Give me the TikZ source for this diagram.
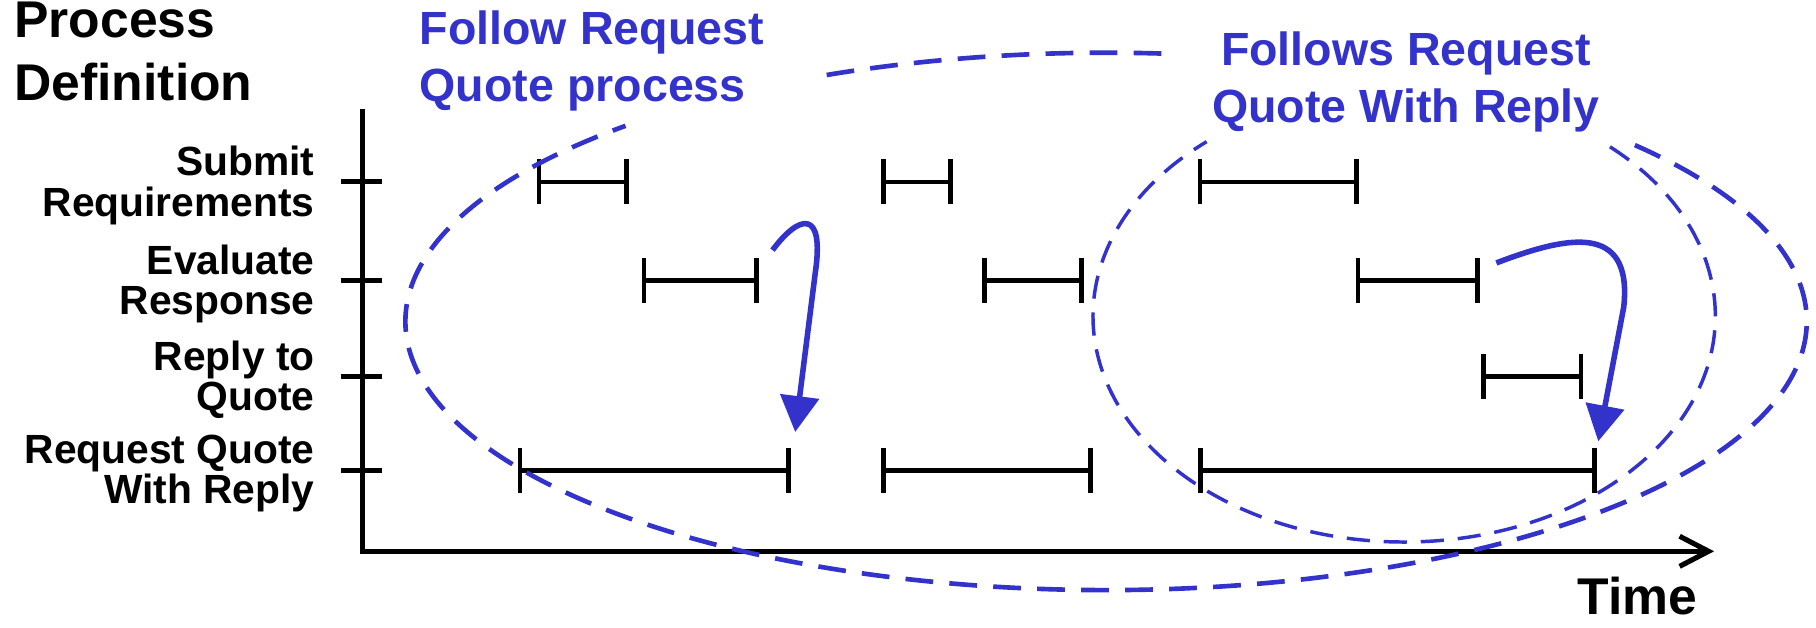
\documentclass[tikz,border=0pt]{standalone}
\usepackage{fontspec}
\setmainfont{Liberation Sans}
\usepackage{xcolor}
\usepackage{tikz}
\usetikzlibrary{arrows.meta,positioning}

\definecolor{flowblue}{RGB}{51,51,204}

\tikzset{
  axis/.style={line width=2.2pt},
  interval/.style={line width=2pt, {Bar[width=19.5pt]}-{Bar[width=19.5pt]}},
  procname/.style={anchor=east, align=right, inner sep=0pt, font=\fontsize{17.6}{17.4}\selectfont\bfseries},
  note/.style={text=flowblue, inner sep=0pt, font=\fontsize{20.1}{24.6}\selectfont\bfseries},
  scopeline/.style={flowblue, dash pattern=on 10pt off 6pt},
  follow/.style={flowblue, line width=2.4pt, -{Triangle[length=15.5pt,width=16.5pt]}},
}

\begin{document}
\begin{tikzpicture}[x=0.5pt, y=0.5pt, yscale=-1]
    \useasboundingbox (0,0) rectangle (1568,542);

    % axes
    \draw [axis, -{Straight Barb[length=12.5pt,width=13pt]}] (313,94) |- (1480,476);
    \node [anchor=base west, inner sep=0pt, font=\fontsize{22.3}{27.3}\selectfont\bfseries] (time) at (1362,531) {Time};
    \node [anchor=base west, align=left, inner sep=0pt, font=\fontsize{22.3}{27.3}\selectfont\bfseries] (procdef) at (12,87) {Process\\Definition};

    % process rows
    \foreach \y/\name/\txt in {157/submit/{Submit\\Requirements}, 242/evaluate/{Evaluate\\Response}, 325/reply/{Reply to\\Quote}, 406/request/{Request Quote\\With Reply}} {
        \draw [axis] (294,\y) -- (330,\y);
        \node [procname] (\name) at (272,\y+3) {\txt};
    }

    % executions
    \foreach \y/\a/\b in {157/463.5/543, 157/761/822.6, 157/1034/1173,
                          242/554/655, 242/847.8/936, 242/1170.6/1277.5,
                          325/1279/1367,
                          406/447/683, 406/761/943.7, 406/1034.4/1379}
        \draw [interval] (\a,\y) -- (\b,\y);

    % groupings
    \draw [scopeline, line width=2pt, dash pattern=on 12pt off 7pt] (955,277.5) ++(-41:605 and 232) arc [start angle=-41, end angle=226.7, x radius=605, y radius=232];
    \draw [scopeline, line width=2pt, dash pattern=on 12pt off 7pt] (955,277.5) ++(246.5:605 and 232) arc [start angle=246.5, end angle=274.9, x radius=605, y radius=232];
    \draw [scopeline, line width=1.5pt] (1212.4,273) ++(-48.6:268.7 and 195) arc [start angle=-48.6, end angle=230.6, x radius=268.7, y radius=195];

    \node [note, anchor=base west, align=left] (followq) at (362,87.8) {Follow Request\\Quote process};
    \node [note, anchor=base, align=center] (followsr) at (1214,106) {Follows Request\\Quote With Reply};

    % follows
    \draw [follow] (667,216) .. controls (690,185) and (712,180) .. (704,235) -- (686.6,373);
    \draw [follow] (1292,227) .. controls (1350,205) and (1410,190) .. (1402,265) -- (1380,381);
\end{tikzpicture}
\end{document}
